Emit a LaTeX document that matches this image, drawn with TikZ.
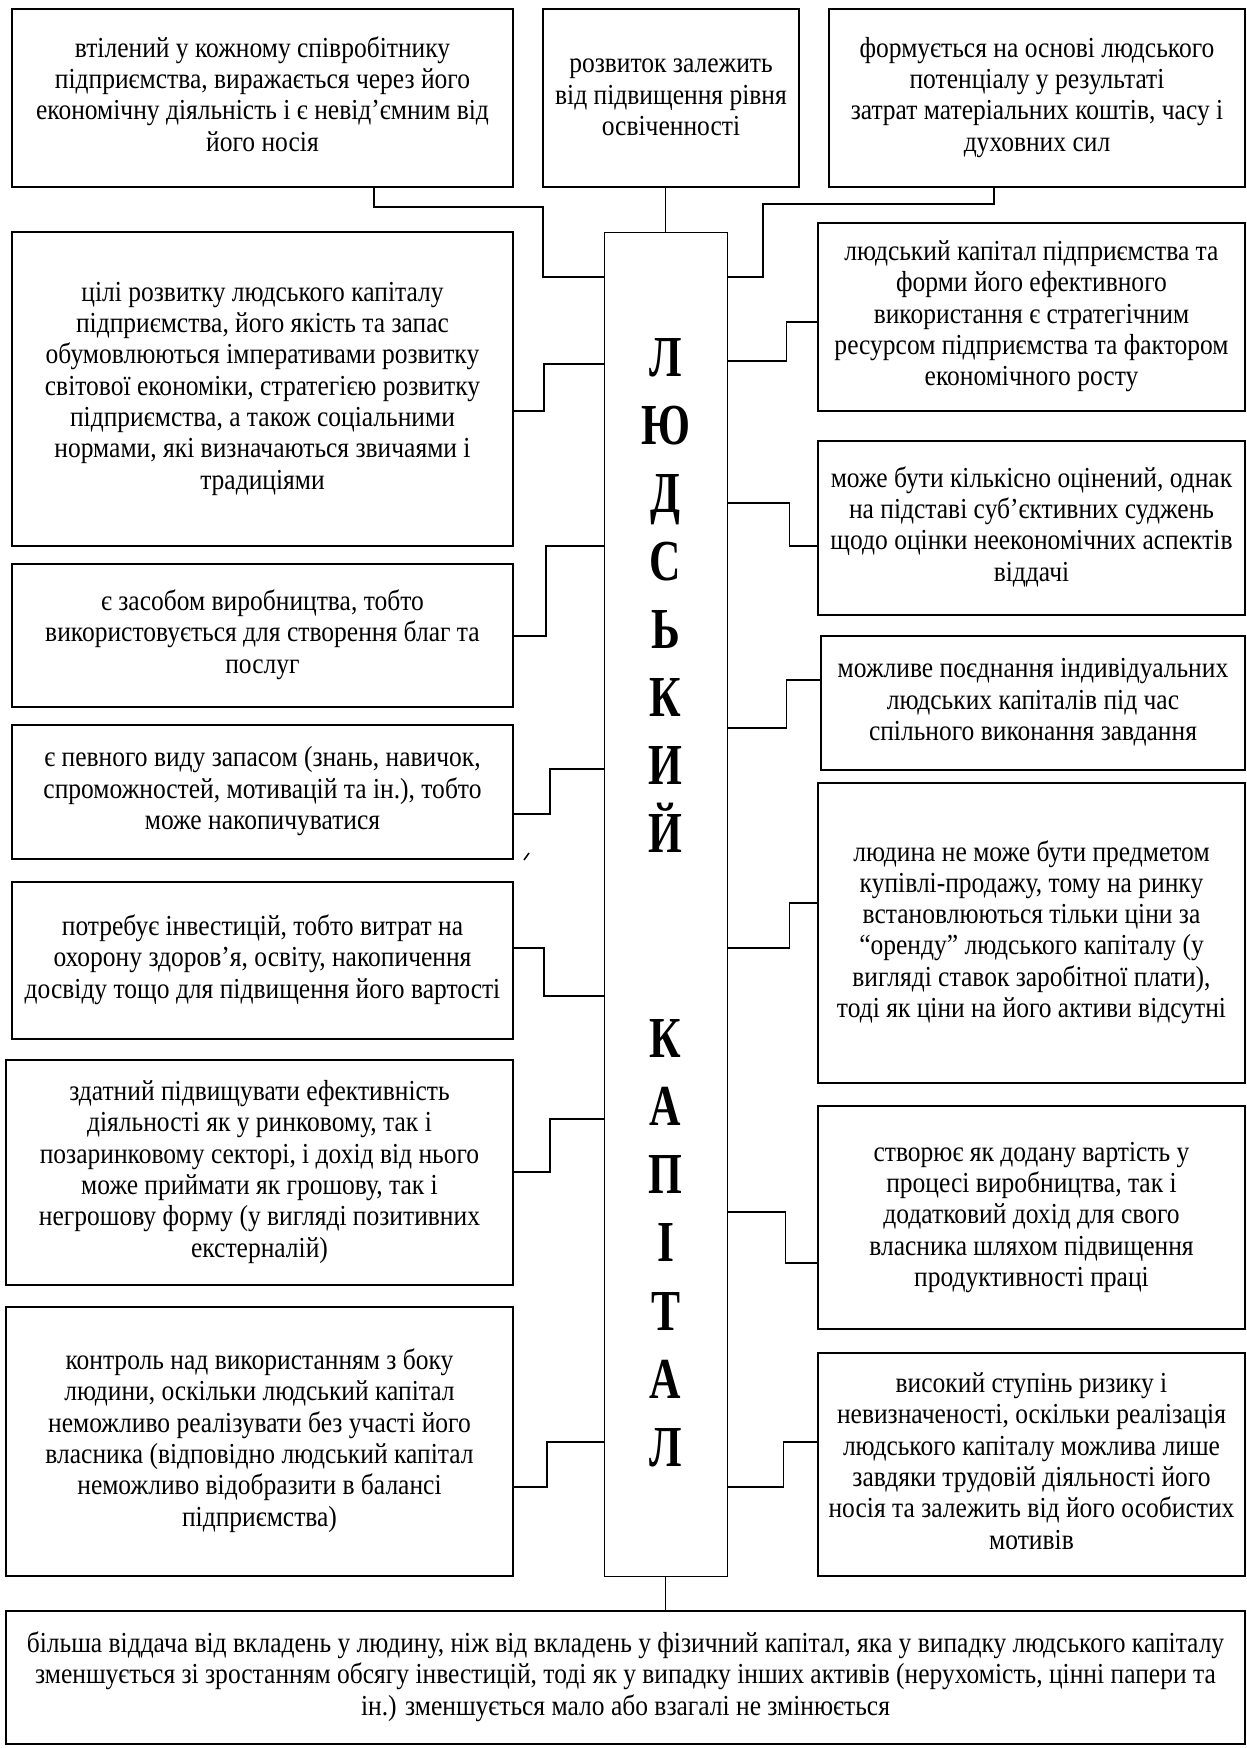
\documentclass[tikz,border=0pt]{standalone}
\usepackage{graphicx}
\usepackage{fontspec}
\setmainfont{Liberation Serif}

\newcommand{\squeeze}[2][0.88]{\scalebox{#1}[1]{\begin{tabular}{@{}c@{}}#2\end{tabular}}}

\tikzset{
  box/.style={draw, line width=1.5pt, align=center, inner sep=0pt,
    font=\fontsize{29}{31.3}\selectfont},
  stem/.style={line width=1.5pt},
  thin stem/.style={line width=1pt},
  letter/.style={anchor=base, inner sep=0pt,
    font=\fontsize{58}{60}\selectfont\bfseries},
}

\begin{document}
\begin{tikzpicture}[x=1pt,y=-1pt]
  \useasboundingbox (0,0) rectangle (1247,1748);

  % top row
  \node[box, minimum width=501, minimum height=178] (t1) at (262.5,98)
    {\squeeze{втілений у кожному співробітнику\\підприємства, виражається через його\\економічну діяльність і є невід’ємним від\\його носія}};
  \node[box, minimum width=256, minimum height=178] (t2) at (671,98)
    {\squeeze{розвиток залежить\\від підвищення рівня\\освіченності}};
  \node[box, minimum width=416, minimum height=178] (t3) at (1037,98)
    {\squeeze{формується на основі людського\\потенціалу у результаті\\затрат матеріальних коштів, часу і\\духовних сил}};

  % central column
  \node[draw, line width=1pt, minimum width=123, minimum height=1344] (c) at (665.5,904) {};
  \foreach \ch [count=\i] in {Л,Ю,Д,С,Ь,К,И,Й}
    \node[letter] (a\i) at (665.5,{376+(\i-1)*68}) {\scalebox{0.75}[1]{\ch}};
  \foreach \ch [count=\i] in {К,А,П,І,Т,А,Л}
    \node[letter] (b\i) at (665.5,{1057+(\i-1)*68.3}) {\scalebox{0.75}[1]{\ch}};

  % left column
  \node[box, minimum width=501, minimum height=314] (l1) at (262.5,389)
    {\squeeze{цілі розвитку людського капіталу\\підприємства, його якість та запас\\обумовлюються імперативами розвитку\\світової економіки, стратегією розвитку\\підприємства, а також соціальними\\нормами, які визначаються звичаями і\\традиціями}};
  \node[box, minimum width=501, minimum height=143] (l2) at (262.5,635.5)
    {\squeeze{є засобом виробництва, тобто\\використовується для створення благ та\\послуг}};
  \node[box, minimum width=501, minimum height=134] (l3) at (262.5,792)
    {\squeeze{є певного виду запасом (знань, навичок,\\спроможностей, мотивацій та ін.), тобто\\може накопичуватися}};
  \node[box, minimum width=501, minimum height=157] (l4) at (262.5,960.5)
    {\squeeze{потребує інвестицій, тобто витрат на\\охорону здоров’я, освіту, накопичення\\досвіду тощо для підвищення його вартості}};
  \node[box, minimum width=507, minimum height=225] (l5) at (259.5,1172.5)
    {\squeeze{здатний підвищувати ефективність\\діяльності як у ринковому, так і\\позаринковому секторі, і дохід від нього\\може приймати як грошову, так і\\негрошову форму (у вигляді позитивних\\екстерналій)}};
  \node[box, minimum width=507, minimum height=269] (l6) at (259.5,1441.5)
    {\squeeze{контроль над використанням з боку\\людини, оскільки людський капітал\\неможливо реалізувати без участі його\\власника (відповідно людський капітал\\неможливо відобразити в балансі\\підприємства)}};

  % right column
  \node[box, minimum width=427, minimum height=188] (r1) at (1031.5,317)
    {\squeeze{людський капітал підприємства та\\форми його ефективного\\використання є стратегічним\\ресурсом підприємства та фактором\\економічного росту}};
  \node[box, minimum width=427, minimum height=174] (r2) at (1031.5,528)
    {\squeeze{може бути кількісно оцінений, однак\\на підставі суб’єктивних суджень\\щодо оцінки неекономічних аспектів\\віддачі}};
  \node[box, minimum width=424, minimum height=134] (r3) at (1033,703)
    {\squeeze{можливе поєднання індивідуальних\\людських капіталів під час\\спільного виконання завдання}};
  \node[box, minimum width=427, minimum height=300] (r4) at (1031.5,933)
    {\squeeze{людина не може бути предметом\\купівлі-продажу, тому на ринку\\встановлюються тільки ціни за\\“оренду” людського капіталу (у\\вигляді ставок заробітної плати),\\тоді як ціни на його активи відсутні}};
  \node[box, minimum width=427, minimum height=223] (r5) at (1031.5,1217.5)
    {\squeeze{створює як додану вартість у\\процесі виробництва, так і\\додатковий дохід для свого\\власника шляхом підвищення\\продуктивності праці}};
  \node[box, minimum width=427, minimum height=223] (r6) at (1031.5,1464.5)
    {\squeeze{високий ступінь ризику і\\невизначеності, оскільки реалізація\\людського капіталу можлива лише\\завдяки трудовій діяльності його\\носія та залежить від його особистих\\мотивів}};

  % bottom
  \node[box, minimum width=1239, minimum height=133] (b) at (625.5,1677.5)
    {\squeeze{більша віддача від вкладень у людину, ніж від вкладень у фізичний капітал, яка у випадку людського капіталу\\зменшується зі зростанням обсягу інвестицій, тоді як у випадку інших активів (нерухомість, цінні папери та\\ін.) зменшується мало або взагалі не змінюється}};

  % links
  \draw[stem] (374,0 |- t1.south) |- (543,207) |- (c.west |- 0,277);
  \draw[thin stem] (c.north |- t2.south) -- (c.north);
  \draw[stem] (994,0 |- t3.south) |- (763,204) |- (c.east |- 0,277);

  \draw[stem] (l1.east |- 0,411) -- ++(30,0) |- (c.west |- 0,364);
  \draw[stem] (l2.east |- 0,636) -- ++(32,0) |- (c.west |- 0,546);
  \draw[stem] (l3.east |- 0,814) -- ++(36,0) |- (c.west |- 0,769);
  \draw[stem] (l4.east |- 0,948) -- ++(30,0) |- (c.west |- 0,996);
  \draw[stem] (l5.east |- 0,1172) -- ++(36,0) |- (c.west |- 0,1119);
  \draw[stem] (l6.east |- 0,1487) -- ++(33,0) |- (c.west |- 0,1442);

  \draw[stem] (r1.west |- 0,322) -- ++(-31,0) |- (c.east |- 0,361);
  \draw[stem] (r2.west |- 0,546) -- ++(-28,0) |- (c.east |- 0,503);
  \draw[stem] (r3.west |- 0,680) -- ++(-34,0) |- (c.east |- 0,728);
  \draw[stem] (r4.west |- 0,903) -- ++(-28,0) |- (c.east |- 0,948);
  \draw[stem] (r5.west |- 0,1263) -- ++(-32,0) |- (c.east |- 0,1212);
  \draw[stem] (r6.west |- 0,1442) -- ++(-34,0) |- (c.east |- 0,1487);

  \draw[thin stem] (c.south) -- (c.south |- b.north);

  \draw[stem] (524,860) -- (529,853);
\end{tikzpicture}
\end{document}
